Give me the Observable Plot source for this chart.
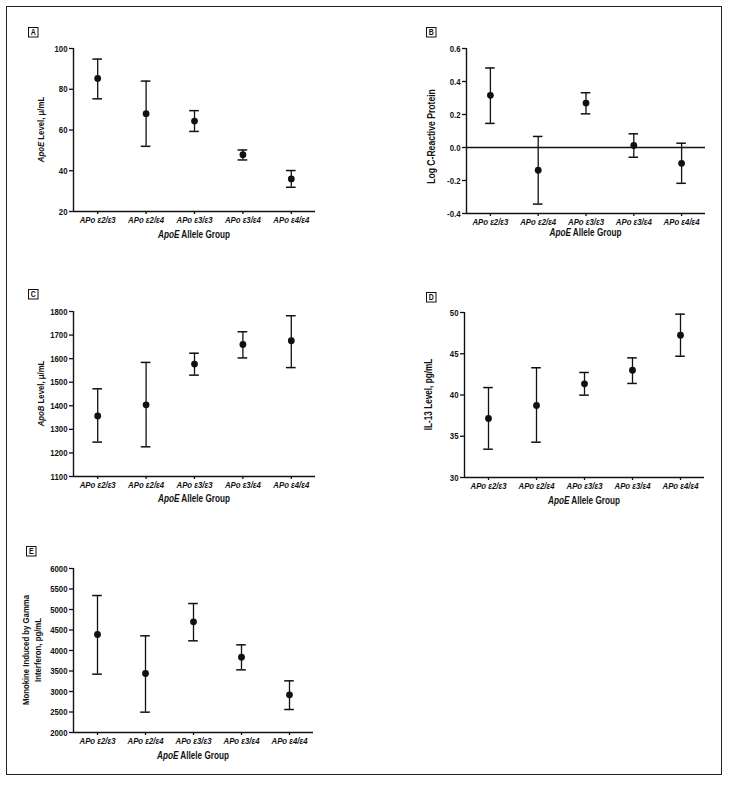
<!DOCTYPE html>
<html><head><meta charset="utf-8">
<script src="https://cdn.jsdelivr.net/npm/d3@7"></script>
<script src="https://cdn.jsdelivr.net/npm/@observablehq/plot@0.6"></script>
<style>
body{margin:0;background:#fff;}
#root{position:relative;width:729px;height:785px;overflow:hidden;background:#fff;}
#frame{position:absolute;left:6px;top:6px;width:714px;height:767px;border:1.5px solid #222;}
.panel{position:absolute;}
</style></head><body><div id="root"><div id="frame"></div></div>
<script>
const groups = ["APo ε2/ε3","APo ε2/ε4","APo ε3/ε3","APo ε3/ε4","APo ε4/ε4"];

const apoeMean = [85.3, 68.0, 64.4, 47.9, 36.0];
const apoeLow  = [75.3, 52.0, 59.3, 45.3, 31.9];
const apoeHigh = [94.8, 84.0, 69.5, 50.2, 40.1];
const apoeTicks = [20, 40, 60, 80, 100];

const crpMean = [0.316, -0.138, 0.269, 0.012, -0.096];
const crpLow  = [0.146, -0.343, 0.204, -0.059, -0.217];
const crpHigh = [0.482, 0.067, 0.332, 0.083, 0.026];
const crpTicks = [-0.4, -0.2, 0.0, 0.2, 0.4, 0.6];

const apobMean = [1357, 1404, 1577, 1660, 1676];
const apobLow  = [1246, 1226, 1530, 1603, 1562];
const apobHigh = [1472, 1584, 1623, 1714, 1782];
const apobTicks = [1100, 1200, 1300, 1400, 1500, 1600, 1700, 1800];

const il13Mean = [37.15, 38.73, 41.35, 43.0, 47.25];
const il13Low  = [33.43, 34.28, 39.98, 41.4, 44.7];
const il13High = [40.9, 43.3, 42.73, 44.5, 49.8];
const il13Ticks = [30, 35, 40, 45, 50];

const migMean = [4390, 3439, 4699, 3837, 2919];
const migLow  = [3423, 2496, 4236, 3528, 2561];
const migHigh = [5341, 4358, 5146, 4138, 3260];
const migTicks = [2000, 2500, 3000, 3500, 4000, 4500, 5000, 5500, 6000];

const FONT = '"Liberation Sans", Arial, sans-serif';
const INK = "#111";
const NARROW = 0.82;

// emulate a condensed typeface: squeeze each text horizontally around its anchor
function narrow(svg) {
  svg.selectAll("text").each(function() {
    const el = this;
    let t = el.getAttribute("transform") || "";
    const x = el.getAttribute("x");
    if (x != null && isFinite(+x)) {
      t += ` translate(${+x},0)`;
      el.removeAttribute("x");
    }
    el.setAttribute("transform", (t + ` scale(${NARROW},1)`).trim());
  });
}

function panel(o) {
  const data = groups.map((g, i) => ({i, m: o.mean[i], lo: o.low[i], hi: o.high[i]}));
  const ymin = o.ticks[0], ymax = o.ticks[o.ticks.length - 1];
  const plot = Plot.plot({
    width: o.width, height: o.height,
    marginLeft: o.ml, marginRight: o.mr, marginTop: o.mt, marginBottom: o.mb,
    style: {fontFamily: FONT, fontSize: "9.5px", fontWeight: "bold", color: INK, background: "transparent", overflow: "visible"},
    x: {type: "linear", domain: [-0.5, 4.5], label: null},
    y: {type: "linear", domain: [ymin, ymax], label: null},
    marks: [
      o.zero ? Plot.ruleY([0], {stroke: INK, strokeWidth: 1.3}) : null,
      Plot.ruleX([-0.5], {stroke: INK, strokeWidth: 1.4}),
      Plot.ruleY([ymin], {stroke: INK, strokeWidth: 1.4}),
      Plot.axisY({ticks: o.ticks, tickSize: 4, tickPadding: 2, tickFormat: o.fmt, label: null, strokeWidth: 1.3}),
      Plot.axisX({ticks: [0, 1, 2, 3, 4], tickSize: 3, tickPadding: 2, tickFormat: i => groups[i], label: null, fontStyle: "italic", strokeWidth: 1.3}),
      Plot.ruleX(data, {x: "i", y1: "lo", y2: "hi", stroke: INK, strokeWidth: 1.3}),
      Plot.ruleY(data, {y: "hi", x1: d => d.i - 0.1, x2: d => d.i + 0.1, stroke: INK, strokeWidth: 1.5}),
      Plot.ruleY(data, {y: "lo", x1: d => d.i - 0.1, x2: d => d.i + 0.1, stroke: INK, strokeWidth: 1.5}),
      Plot.dot(data, {x: "i", y: "m", r: 3.4, fill: INK, stroke: "none"})
    ]
  });
  const svg = d3.select(plot);
  const cy = (o.mt + (o.height - o.mb)) / 2 + (o.yoff || 0);
  // y title
  o.ylabel.forEach((line, li) => {
    const t = svg.append("text")
      .attr("transform", `translate(${o.ml - o.ytx[li]},${cy}) rotate(-90)`)
      .attr("text-anchor", "middle").attr("dominant-baseline", "middle")
      .attr("font-size", o.yfs || 9.5).attr("font-weight", "bold").attr("fill", INK);
    line.forEach(([s, it]) => t.append("tspan").attr("font-style", it ? "italic" : "normal").text(s));
  });
  // x title
  const xt = svg.append("text")
    .attr("x", (o.ml + o.width - o.mr) / 2).attr("y", o.height - o.mb + o.xty)
    .attr("text-anchor", "middle").attr("dominant-baseline", "middle")
    .attr("font-size", 10).attr("font-weight", "bold").attr("fill", INK);
  xt.append("tspan").attr("font-style", "italic").text("ApoE");
  xt.append("tspan").text(" Allele Group");
  // panel letter box
  svg.append("rect").attr("x", o.bx - o.left + 0.5).attr("y", o.by - o.top + 0.5)
    .attr("width", 9.5).attr("height", 9.5).attr("fill", "none").attr("stroke", INK).attr("stroke-width", 1);
  svg.append("text").attr("x", o.bx - o.left + 5.25).attr("y", o.by - o.top + 5.5)
    .attr("text-anchor", "middle").attr("dominant-baseline", "middle")
    .attr("font-size", 8.5).attr("font-weight", "bold").attr("fill", INK).text(o.letter);
  narrow(svg);
  plot.classList.add("panel");
  plot.style.left = o.left + "px";
  plot.style.top = o.top + "px";
  document.getElementById("root").appendChild(plot);
}

const fmtInt = d => String(d);

panel({letter: "A", mean: apoeMean, low: apoeLow, high: apoeHigh, ticks: apoeTicks, fmt: fmtInt,
  left: 0, top: 0, width: 340, height: 260, ml: 73, mr: 25, mt: 48, mb: 49,
  ylabel: [[["ApoE", true], [" Level, μ/mL", false]]], ytx: [31], xty: 25, bx: 28, by: 27});

panel({letter: "B", mean: crpMean, low: crpLow, high: crpHigh, ticks: crpTicks, fmt: d => d.toFixed(1), zero: true,
  left: 360, top: 0, width: 360, height: 260, ml: 106, mr: 15, mt: 48, mb: 47,
  ylabel: [[["Log C-Reactive Protein", false]]], ytx: [34], yfs: 10.5, yoff: 6, xty: 21, bx: 426, by: 27});

panel({letter: "C", mean: apobMean, low: apobLow, high: apobHigh, ticks: apobTicks, fmt: fmtInt,
  left: 0, top: 260, width: 340, height: 260, ml: 73, mr: 25, mt: 51, mb: 44,
  ylabel: [[["ApoB", true], [" Level, μ/mL", false]]], ytx: [31], xty: 24, bx: 28, by: 289});

panel({letter: "D", mean: il13Mean, low: il13Low, high: il13High, ticks: il13Ticks, fmt: fmtInt,
  left: 360, top: 260, width: 360, height: 260, ml: 104, mr: 16, mt: 52, mb: 43,
  ylabel: [[["IL-13 Level, pg/mL", false]]], ytx: [34], yfs: 10, xty: 25, bx: 426, by: 292});

panel({letter: "E", mean: migMean, low: migLow, high: migHigh, ticks: migTicks, fmt: fmtInt,
  left: 0, top: 520, width: 340, height: 260, ml: 73, mr: 27, mt: 48, mb: 48,
  ylabel: [[["Monokine Induced by Gamma", false]], [["Interferon, pg/mL", false]]], ytx: [46, 34], xty: 25, bx: 26, by: 546});
</script></body></html>
